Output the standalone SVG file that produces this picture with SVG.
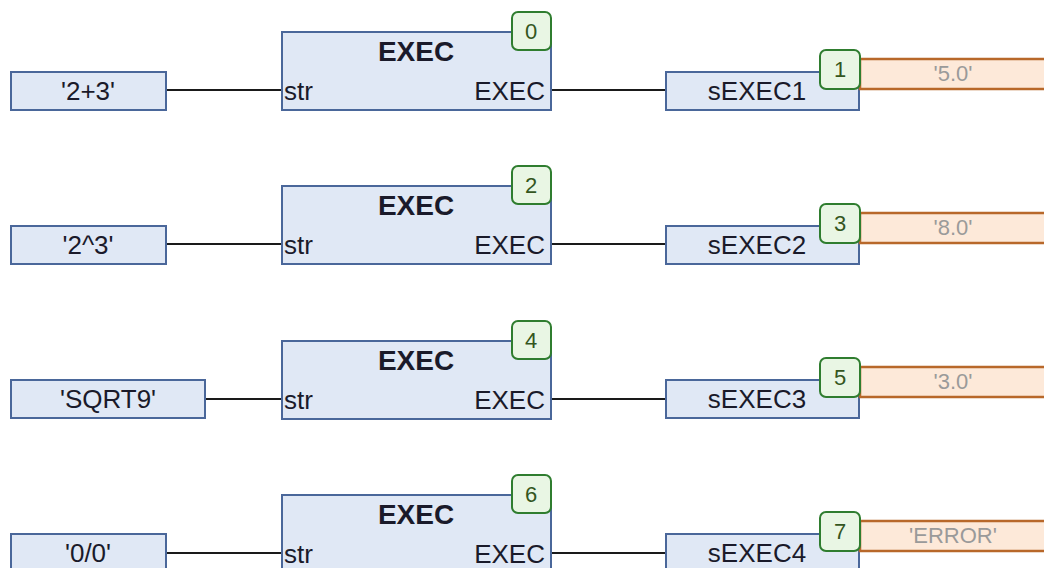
<svg xmlns="http://www.w3.org/2000/svg" width="1044" height="568" viewBox="0 0 1044 568">
<defs>
<style>
.box{fill:#e0e8f5;stroke:#4a679a;stroke-width:2}
.badge{fill:#e9f6e4;stroke:#2f7d2f;stroke-width:2}
.val{fill:#fde9d9;stroke:#b8682a;stroke-width:2.5}
.wire{stroke:#1a1a1a;stroke-width:2;fill:none}
text{font-family:"Liberation Sans",Arial,sans-serif;fill:#1a1a2a}
.t{font-size:26px}
.title{font-size:28px;font-weight:bold;text-anchor:middle}
.c{text-anchor:middle}
.num{font-size:22px;text-anchor:middle;fill:#34561e}
.vt{font-size:22px;text-anchor:middle;fill:#9a9a9a}
</style>
</defs>
<rect width="1044" height="568" fill="#ffffff"/>
<g id="connectors">
<path class="wire" d="M166 90H282M551 90H666"/>
<path class="wire" d="M166 244H282M551 244H666"/>
<path class="wire" d="M205 399H282M551 399H666"/>
<path class="wire" d="M166 553H282M551 553H666"/>
</g>
<g id="in1"><rect class="box" x="11" y="72" width="155" height="38"/><text class="t c" x="88" y="100">'2+3'</text></g>
<g id="in2"><rect class="box" x="11" y="226" width="155" height="38"/><text class="t c" x="88" y="254">'2^3'</text></g>
<g id="in3"><rect class="box" x="11" y="380" width="194" height="38"/><text class="t c" x="108" y="408">'SQRT9'</text></g>
<g id="in4"><rect class="box" x="11" y="534" width="155" height="38"/><text class="t c" x="88" y="562">'0/0'</text></g>

<g id="exec1"><rect class="box" x="282" y="32" width="269" height="78"/><text class="title" x="416" y="61">EXEC</text><text class="t" x="284" y="100">str</text><text class="t" x="545" y="100" text-anchor="end">EXEC</text><rect class="badge" x="512" y="12" width="39" height="38" rx="6"/><text class="num" x="531" y="39">0</text></g>
<g id="exec2"><rect class="box" x="282" y="186" width="269" height="78"/><text class="title" x="416" y="215">EXEC</text><text class="t" x="284" y="254">str</text><text class="t" x="545" y="254" text-anchor="end">EXEC</text><rect class="badge" x="512" y="166" width="39" height="38" rx="6"/><text class="num" x="531" y="193">2</text></g>
<g id="exec3"><rect class="box" x="282" y="341" width="269" height="78"/><text class="title" x="416" y="370">EXEC</text><text class="t" x="284" y="409">str</text><text class="t" x="545" y="409" text-anchor="end">EXEC</text><rect class="badge" x="512" y="321" width="39" height="38" rx="6"/><text class="num" x="531" y="348">4</text></g>
<g id="exec4"><rect class="box" x="282" y="495" width="269" height="78"/><text class="title" x="416" y="524">EXEC</text><text class="t" x="284" y="563">str</text><text class="t" x="545" y="563" text-anchor="end">EXEC</text><rect class="badge" x="512" y="475" width="39" height="38" rx="6"/><text class="num" x="531" y="502">6</text></g>

<g id="out1"><rect class="box" x="666" y="72" width="193" height="38"/><text class="t c" x="757" y="100">sEXEC1</text><rect class="val" x="860" y="59" width="200" height="30"/><text class="vt" x="953" y="81">'5.0'</text><rect class="badge" x="820" y="50" width="40" height="39" rx="6"/><text class="num" x="840" y="77">1</text></g>
<g id="out2"><rect class="box" x="666" y="226" width="193" height="38"/><text class="t c" x="757" y="254">sEXEC2</text><rect class="val" x="860" y="213" width="200" height="30"/><text class="vt" x="953" y="235">'8.0'</text><rect class="badge" x="820" y="204" width="40" height="39" rx="6"/><text class="num" x="840" y="231">3</text></g>
<g id="out3"><rect class="box" x="666" y="380" width="193" height="38"/><text class="t c" x="757" y="408">sEXEC3</text><rect class="val" x="860" y="367" width="200" height="30"/><text class="vt" x="953" y="389">'3.0'</text><rect class="badge" x="820" y="358" width="40" height="39" rx="6"/><text class="num" x="840" y="385">5</text></g>
<g id="out4"><rect class="box" x="666" y="534" width="193" height="38"/><text class="t c" x="757" y="562">sEXEC4</text><rect class="val" x="860" y="521" width="200" height="30"/><text class="vt" x="953" y="543">'ERROR'</text><rect class="badge" x="820" y="512" width="40" height="39" rx="6"/><text class="num" x="840" y="539">7</text></g>
</svg>
